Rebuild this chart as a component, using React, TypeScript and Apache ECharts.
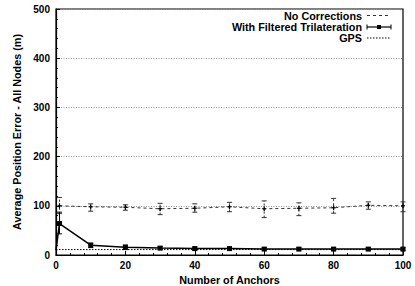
import React, { useEffect, useRef } from "react";
import * as echarts from "echarts";

const seriesNames = ["No Corrections", "With Filtered Trilateration", "GPS"];

// No Corrections
const ncX = [1, 10, 20, 30, 40, 50, 60, 70, 80, 90, 100];
const ncMean = [100, 98, 97, 94, 95, 98, 94, 95, 96, 101, 100];
const ncLow = [84, 89, 91, 82, 87, 88, 76, 80, 85, 93, 88];
const ncHigh = [117, 104, 102, 105, 104, 107, 110, 106, 115, 108, 108];

// With Filtered Trilateration
const ftX = [0, 1, 10, 20, 30, 40, 50, 60, 70, 80, 90, 100];
const ftMean = [10, 64, 20, 16, 14, 13, 13, 12, 12, 12, 12, 12];
const ftLow = [10, 43, 15, 11, 11, 10, 10, 10, 10, 10, 10, 10];
const ftHigh = [10, 87, 24, 20, 17, 16, 15, 15, 15, 15, 15, 15];

// GPS
const gpsX = [0, 100];
const gpsVal = [11, 11];

const xTicks = { min: 0, max: 100, interval: 20 };
const yTicks = { min: 0, max: 500, interval: 100 };

const FONT = "Liberation Sans";

function errorBars(xs: number[], lo: number[], hi: number[], mean: number[], cross: boolean, dashed: boolean) {
  return {
    type: "custom",
    data: xs.map((x, i) => [x, lo[i], hi[i], mean[i]]),
    z: 4,
    renderItem: (params: any, api: any) => {
      const x = api.value(0);
      const pLo = api.coord([x, api.value(1)]);
      const pHi = api.coord([x, api.value(2)]);
      const pM = api.coord([x, api.value(3)]);
      const w = 2.5;
      const st: any = dashed
        ? { stroke: "#333", lineWidth: 1, lineDash: [2, 2] }
        : { stroke: "#000", lineWidth: 1 };
      const cap = { stroke: dashed ? "#333" : "#000", lineWidth: 1 };
      const children: any[] = [];
      if (Math.abs(pLo[1] - pHi[1]) > 1) {
        children.push(
          { type: "line", shape: { x1: pLo[0], y1: pLo[1], x2: pHi[0], y2: pHi[1] }, style: st },
          { type: "line", shape: { x1: pLo[0] - w, y1: pLo[1], x2: pLo[0] + w, y2: pLo[1] }, style: cap },
          { type: "line", shape: { x1: pHi[0] - w, y1: pHi[1], x2: pHi[0] + w, y2: pHi[1] }, style: cap }
        );
      }
      if (cross) {
        children.push(
          { type: "line", shape: { x1: pM[0] - 2, y1: pM[1], x2: pM[0] + 2, y2: pM[1] }, style: { stroke: "#000", lineWidth: 1.2 } },
          { type: "line", shape: { x1: pM[0], y1: pM[1] - 2.5, x2: pM[0], y2: pM[1] + 2.5 }, style: { stroke: "#000", lineWidth: 1.2 } }
        );
      }
      return { type: "group", children };
    },
  };
}

export default function App() {
  const ref = useRef<HTMLDivElement>(null);
  useEffect(() => {
    if (!ref.current) return;
    const chart = echarts.init(ref.current, undefined, { renderer: "svg" });
    const lx1 = 367;
    const lx2 = 391;
    const ly = [15.5, 27, 38];
    const textStyle = { fill: "#000", font: `bold 10.8px "${FONT}"`, align: "right", verticalAlign: "middle" };
    chart.setOption({
      animation: false,
      backgroundColor: "#fff",
      grid: {
        left: 56, right: 12, top: 9, bottom: 31,
        outerBoundsMode: "none",
        containLabel: false,
        show: true, borderColor: "#000", borderWidth: 1.2, backgroundColor: "transparent",
      },
      xAxis: {
        type: "value",
        min: xTicks.min,
        max: xTicks.max,
        interval: xTicks.interval,
        name: "Number of Anchors",
        nameLocation: "middle",
        nameGap: 17,
        nameTextStyle: { fontFamily: FONT, fontWeight: "bold", fontSize: 10.8, color: "#000" },
        axisLine: { show: true, onZero: false, lineStyle: { color: "#000", width: 1.2 } },
        axisTick: { show: true, inside: true, length: 4, lineStyle: { color: "#000" } },
        minorTick: { show: true, splitNumber: 5, length: 2, lineStyle: { color: "#000" } },
        axisLabel: { fontFamily: FONT, fontWeight: "bold", fontSize: 10, color: "#000", margin: 5 },
        splitLine: { show: false },
      },
      yAxis: {
        type: "value",
        min: yTicks.min,
        max: yTicks.max,
        interval: yTicks.interval,
        name: "Average Position Error - All Nodes (m)",
        nameLocation: "middle",
        nameGap: 33,
        nameTextStyle: { fontFamily: FONT, fontWeight: "bold", fontSize: 10.8, color: "#000" },
        axisLine: { show: true, lineStyle: { color: "#000", width: 1.2 } },
        axisTick: { show: true, inside: true, length: 4, lineStyle: { color: "#000" } },
        minorTick: { show: true, splitNumber: 5, length: 2, lineStyle: { color: "#000" } },
        axisLabel: { fontFamily: FONT, fontWeight: "bold", fontSize: 10, color: "#000", margin: 6 },
        splitLine: { show: true, lineStyle: { color: "#999", type: [1, 1.5], width: 1 } },
      },
      series: [
        {
          name: seriesNames[0],
          type: "line",
          data: ncX.map((x, i) => [x, ncMean[i]]),
          symbol: "none",
          lineStyle: { color: "#333", width: 1, type: [3, 3] },
          z: 3,
        },
        errorBars(ncX, ncLow, ncHigh, ncMean, true, true),
        {
          name: seriesNames[1],
          type: "line",
          data: ftX.map((x, i) => (x === 0 ? { value: [x, ftMean[i]], symbol: "none" } : [x, ftMean[i]])),
          symbol: "rect",
          symbolSize: 5,
          itemStyle: { color: "#000" },
          lineStyle: { color: "#000", width: 1.5 },
          z: 5,
        },
        errorBars(ftX, ftLow, ftHigh, ftMean, false, false),
        {
          name: seriesNames[2],
          type: "line",
          data: gpsX.map((x, i) => [x, gpsVal[i]]),
          symbol: "none",
          lineStyle: { color: "#000", width: 1, type: [1.5, 1.5] },
          z: 3,
        },
      ],
      graphic: [
        { type: "text", x: 362, y: ly[0], style: { ...textStyle, text: seriesNames[0] } },
        { type: "text", x: 362, y: ly[1], style: { ...textStyle, text: seriesNames[1] } },
        { type: "text", x: 362, y: ly[2], style: { ...textStyle, text: seriesNames[2] } },
        { type: "line", shape: { x1: lx1, y1: ly[0], x2: lx2, y2: ly[0] }, style: { stroke: "#333", lineWidth: 1, lineDash: [3, 3] } },
        { type: "line", shape: { x1: lx1, y1: ly[1], x2: lx2, y2: ly[1] }, style: { stroke: "#000", lineWidth: 1.2 } },
        { type: "line", shape: { x1: lx1, y1: ly[1] - 2.5, x2: lx1, y2: ly[1] + 2.5 }, style: { stroke: "#000", lineWidth: 1 } },
        { type: "line", shape: { x1: lx2, y1: ly[1] - 2.5, x2: lx2, y2: ly[1] + 2.5 }, style: { stroke: "#000", lineWidth: 1 } },
        { type: "rect", shape: { x: (lx1 + lx2) / 2 - 2, y: ly[1] - 2, width: 4, height: 4 }, style: { fill: "#000" } },
        { type: "line", shape: { x1: lx1, y1: ly[2], x2: lx2, y2: ly[2] }, style: { stroke: "#000", lineWidth: 1, lineDash: [1.5, 1.5] } },
      ],
    });
    return () => chart.dispose();
  }, []);
  return <div ref={ref} style={{ width: 415, height: 286, position: "absolute", left: 0, top: 0 }} />;
}
